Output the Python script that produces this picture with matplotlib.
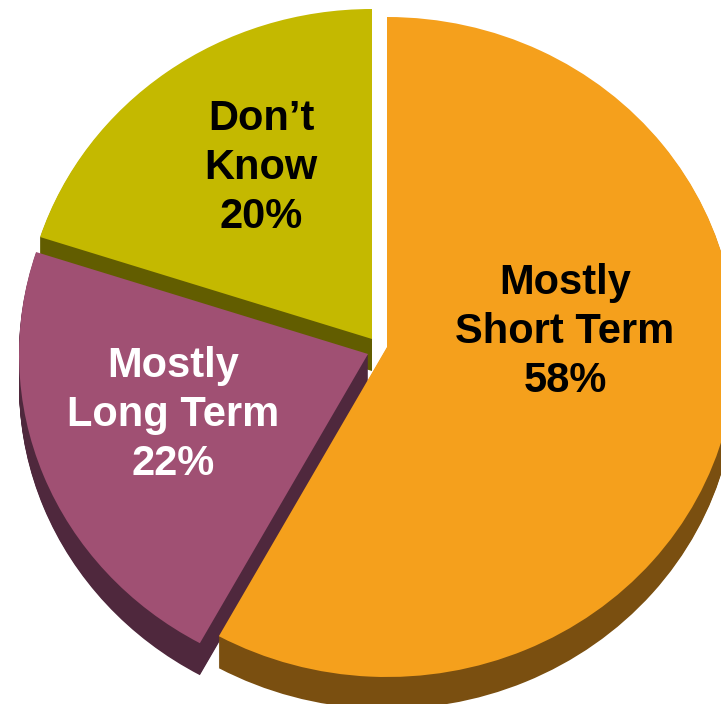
import matplotlib.pyplot as plt

labels = ["Mostly\nShort Term\n58%", "Mostly\nLong Term\n22%", "Don\u2019t\nKnow\n20%"]
shares = [58, 22, 20]
face_colors = ["#F5A01C", "#A05073", "#C4B900"]
side_colors = ["#7A4F10", "#4F283D", "#625D00"]
text_colors = ["black", "white", "black"]

W, H = 721, 704
RX, RY = 349, 330          # top face is a slightly squashed ellipse
SY = RY / RX
DEPTH = 32                 # thickness of the 3d rim in pixels

# wedge apex and label centre, in pixels from the top-left corner
centres = [(387, 347), (368, 354), (372, 339)]
label_pos = [(565, 332), (173, 415), (261, 168)]


def to_data(x, y):
    return x, (H - y) / SY


fig = plt.figure(figsize=(W / 100, H / 100), dpi=100)
ax = fig.add_axes([0, 0, 1, 1])

# side of the pie: the dark wedges stacked down to the full depth
for d in range(DEPTH, 0, -1):
    wedges, _ = ax.pie(shares, colors=side_colors, startangle=90,
                       counterclock=False, radius=RX,
                       wedgeprops=dict(linewidth=0))
    for w, (cx, cy) in zip(wedges, centres):
        w.set_center(to_data(cx, cy + d))

# top faces
wedges, _ = ax.pie(shares, colors=face_colors, startangle=90,
                   counterclock=False, radius=RX,
                   wedgeprops=dict(linewidth=0))
for w, (cx, cy) in zip(wedges, centres):
    w.set_center(to_data(cx, cy))
    w.set_zorder(5)

for lab, (lx, ly), col in zip(labels, label_pos, text_colors):
    ax.text(*to_data(lx, ly), lab, ha="center", va="center", color=col,
            fontsize=30, fontweight="bold", family="Liberation Sans",
            linespacing=1.3, zorder=10)

ax.set_aspect("auto")
ax.set_xlim(0, W)
ax.set_ylim(0, H / SY)
ax.axis("off")

fig.savefig("out.png", dpi=100, facecolor="white")
